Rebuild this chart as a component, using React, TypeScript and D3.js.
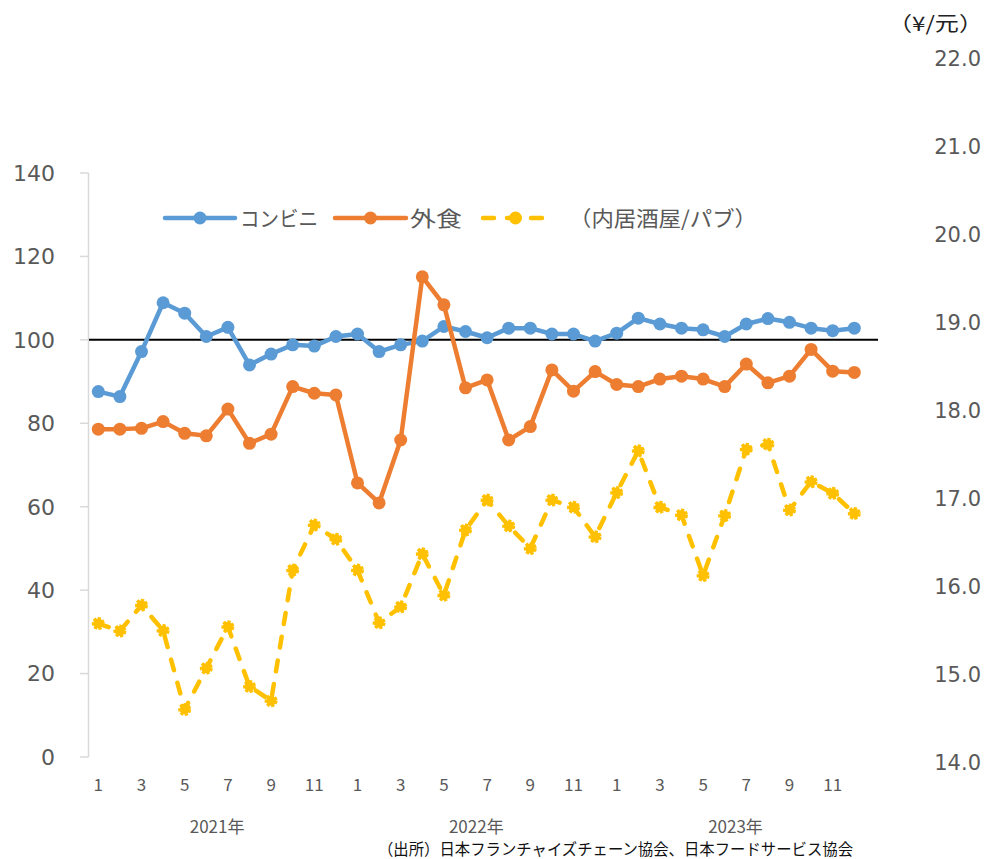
import React from "react";
import * as d3 from "d3";

const years = ["2021年", "2022年", "2023年"];
const monthLabels = ["1", "", "3", "", "5", "", "7", "", "9", "", "11", ""];
const leftTicks = [0, 20, 40, 60, 80, 100, 120, 140];
const rightTicks = [14, 15, 16, 17, 18, 19, 20, 21, 22];

const konbini = [
  87.6, 86.4, 97.2, 108.9, 106.4, 100.8, 103.0, 94.0, 96.6, 98.8, 98.5, 100.8,
  101.4, 97.2, 98.8, 99.7, 103.2, 102.0, 100.5, 102.8, 102.8, 101.4, 101.4, 99.7,
  101.6, 105.2, 103.8, 102.8, 102.4, 100.8, 103.8, 105.1, 104.2, 102.8, 102.2, 102.8,
];
const gaishoku = [
  78.6, 78.6, 78.8, 80.4, 77.6, 77.0, 83.4, 75.2, 77.4, 88.8, 87.2, 86.8,
  65.7, 60.9, 76.0, 115.1, 108.4, 88.5, 90.4, 76.0, 79.2, 92.8, 87.7, 92.4,
  89.3, 88.8, 90.6, 91.3, 90.6, 88.8, 94.2, 89.7, 91.3, 97.7, 92.5, 92.2,
];
const izakaya = [
  32.0, 30.2, 36.4, 30.3, 11.4, 21.3, 31.2, 16.9, 13.5, 44.8, 55.6, 52.2,
  44.8, 32.2, 36.0, 48.7, 38.8, 54.4, 61.6, 55.4, 50.0, 61.6, 59.9, 52.8,
  63.4, 73.4, 59.9, 58.0, 43.5, 57.9, 73.8, 75.0, 59.2, 66.0, 63.2, 58.4,
];

const seriesNames = ["コンビニ", "外食", "（内居酒屋/パブ）"];
const colors = ["#5B9BD5", "#ED7D31", "#FFC000"];
const sourceText = "（出所）日本フランチャイズチェーン協会、日本フードサービス協会";
const unitText = "（¥/元）";

export default function App() {
  const W = 988, H = 859;
  const n = konbini.length;
  const idx = d3.range(n);
  const x = d3.scalePoint<number>().domain(idx).range([98.3, 854.3]);
  const y = d3.scaleLinear().domain([0, 140]).range([757, 173]);
  const yR = d3.scaleLinear().domain([14, 22]).range([762, 58]);
  const line = d3
    .line<number>()
    .x((_, i) => x(i) as number)
    .y((d) => y(d));

  const series = [konbini, gaishoku, izakaya];
  const numFont = "'DejaVu Sans', Verdana, sans-serif";
  const jpFont = "'Noto Sans CJK JP', sans-serif";
  const gray = "#595959";

  const legendItems = [
    { x0: 165, x1: 235, tx: 240, tl: 78 },
    { x0: 335, x1: 406, tx: 410, tl: 52 },
    { x0: 483, x1: 548, tx: 569, tl: 188 },
  ];
  const ly = 218;

  return (
    <svg
      width={W}
      height={H}
      style={{ position: "absolute", left: 0, top: 0, display: "block", background: "#fff" }}
    >
      {/* left axis */}
      <line x1={88.5} x2={88.5} y1={173} y2={757} stroke="#D9D9D9" strokeWidth={1.5} />
      {leftTicks.map((t) => (
        <g key={t}>
          <line x1={80} x2={88.5} y1={y(t)} y2={y(t)} stroke="#D9D9D9" strokeWidth={1.5} />
          <text
            x={55}
            y={y(t)}
            dy="0.36em"
            textAnchor="end"
            fontFamily={numFont}
            fontSize={22}
            fill={gray}
          >
            {t}
          </text>
        </g>
      ))}
      {/* right axis labels */}
      {rightTicks.map((t) => (
        <text
          key={t}
          x={981}
          y={yR(t)}
          dy="0.36em"
          textAnchor="end"
          fontFamily={numFont}
          fontSize={21}
          fill={gray}
        >
          {t.toFixed(1)}
        </text>
      ))}
      <text
        x={888}
        y={24}
        dy="0.36em"
        fontFamily={jpFont}
        fontSize={20}
        fill="#222"
        textLength={95}
        lengthAdjust="spacingAndGlyphs"
      >
        {unitText}
      </text>

      {/* reference line at 100 */}
      <line x1={89} x2={878} y1={y(100)} y2={y(100)} stroke="#000" strokeWidth={2} />

      {/* series */}
      {series.map((s, si) => (
        <g key={si}>
          <path
            d={line(s) || ""}
            fill="none"
            stroke={colors[si]}
            strokeWidth={4.5}
            strokeLinejoin="round"
            strokeLinecap="round"
            strokeDasharray={si === 2 ? "11,13" : undefined}
          />
          {s.map((v, i) => (
            <circle
              key={i}
              cx={x(i) as number}
              cy={y(v)}
              r={si === 2 ? 5 : 6.5}
              fill={colors[si]}
              stroke={si === 2 ? colors[si] : "none"}
              strokeWidth={si === 2 ? 3 : 0}
              strokeDasharray={si === 2 ? "3,1.5" : undefined}
            />
          ))}
        </g>
      ))}

      {/* month labels */}
      {idx.map((i) => {
        const lab = monthLabels[i % 12];
        if (!lab) return null;
        return (
          <text
            key={i}
            x={x(i) as number}
            y={785}
            dy="0.36em"
            textAnchor="middle"
            fontFamily={jpFont}
            fontSize={17}
            fill={gray}
          >
            {lab}
          </text>
        );
      })}
      {years.map((yr, k) => {
        const cx = ((x(k * 12) as number) + (x(k * 12 + 11) as number)) / 2;
        return (
          <text
            key={yr}
            x={cx}
            y={827}
            dy="0.36em"
            textAnchor="middle"
            fontFamily={jpFont}
            fontSize={17}
            fill={gray}
          >
            {yr}
          </text>
        );
      })}
      <text
        x={378}
        y={849}
        dy="0.36em"
        fontFamily={jpFont}
        fontSize={16}
        fill="#111"
        textLength={475}
        lengthAdjust="spacingAndGlyphs"
      >
        {sourceText}
      </text>

      {/* legend */}
      {legendItems.map((it, k) => (
        <g key={k}>
          <line
            x1={it.x0}
            x2={it.x1}
            y1={ly}
            y2={ly}
            stroke={colors[k]}
            strokeWidth={4.5}
            strokeLinecap="round"
            strokeDasharray={k === 2 ? "11,13" : undefined}
          />
          <circle cx={(it.x0 + it.x1) / 2} cy={ly} r={k === 2 ? 5 : 6.5} fill={colors[k]}
            stroke={k === 2 ? colors[k] : "none"} strokeWidth={k === 2 ? 3 : 0} />
          <text
            x={it.tx}
            y={ly}
            dy="0.36em"
            fontFamily={jpFont}
            fontSize={21}
            fill={gray}
            textLength={it.tl}
            lengthAdjust="spacingAndGlyphs"
          >
            {seriesNames[k]}
          </text>
        </g>
      ))}
    </svg>
  );
}
